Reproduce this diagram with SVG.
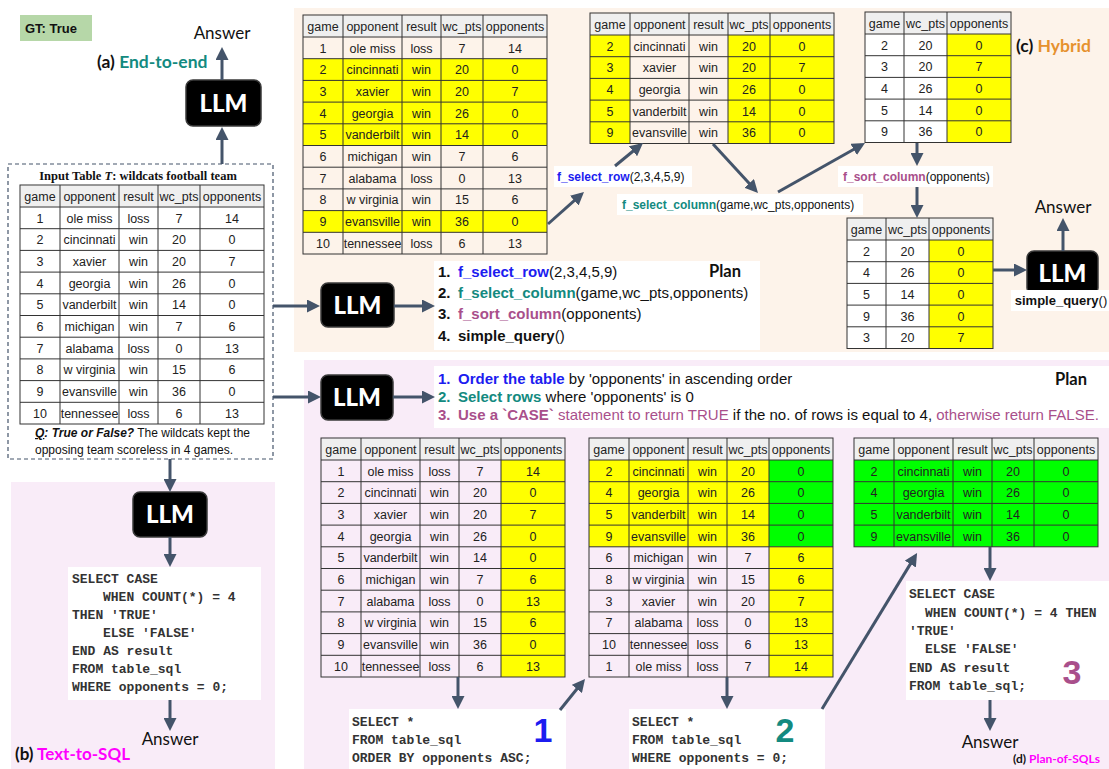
<svg xmlns="http://www.w3.org/2000/svg" width="1109" height="769" viewBox="0 0 1109 769">
<defs>
<style>
.t{font-family:"Liberation Sans",Arial,sans-serif;font-size:12.5px;fill:#222;text-anchor:middle}
.s{font-family:"Liberation Sans",Arial,sans-serif;fill:#111}
.cal{font-family:Lato,"Liberation Sans",sans-serif}
.mono{font-family:"Liberation Mono","Courier New",monospace;font-weight:bold;font-size:13px;fill:#333}
.arrow{stroke:#44546a;stroke-width:3;fill:none;marker-end:url(#ah)}
.grid{fill:none;stroke:#333;stroke-width:1}
.hdr{fill:#efefef}
.llm rect{fill:#000;stroke:#3a3a3a;stroke-width:1.5}
.llm text{fill:#fff;font-family:Lato,"Liberation Sans",sans-serif;font-weight:900;font-size:24px;text-anchor:middle}
.y{fill:#ffff00}.g{fill:#00ff00}
.box{fill:#fff}
.blue{fill:#1c1cf0}.teal{fill:#138a80}.mauve{fill:#a94f8b}
.b{font-weight:bold}
.big{font-family:"Liberation Sans",Arial,sans-serif;font-weight:bold;font-size:34px;text-anchor:middle}
</style>
<marker id="ah" markerUnits="userSpaceOnUse" markerWidth="13" markerHeight="13" refX="9" refY="6.5" orient="auto"><path d="M0,0 L13,6.5 L0,13 z" fill="#44546a"/></marker>
<g id="g5x10"><rect class="grid" width="244" height="239"/><path class="grid" d="M0,22H244M0,43.7H244M0,65.4H244M0,87.1H244M0,108.8H244M0,130.5H244M0,152.2H244M0,173.9H244M0,195.6H244M0,217.3H244M40,0V239M99,0V239M138,0V239M180,0V239"/></g>
<g id="g5x5"><rect class="grid" width="244" height="130.5"/><path class="grid" d="M0,22H244M0,43.7H244M0,65.4H244M0,87.1H244M0,108.8H244M40,0V130.5M99,0V130.5M138,0V130.5M180,0V130.5"/></g>
<g id="g5x4"><rect class="grid" width="244" height="108.8"/><path class="grid" d="M0,22H244M0,43.7H244M0,65.4H244M0,87.1H244M40,0V108.8M99,0V108.8M138,0V108.8M180,0V108.8"/></g>
<g id="g3x5"><rect class="grid" width="146" height="130.5"/><path class="grid" d="M0,22H146M0,43.7H146M0,65.4H146M0,87.1H146M0,108.8H146M39,0V130.5M82,0V130.5"/></g>
<g id="h5"><rect class="hdr" x="0.5" y="0.5" width="243" height="21"/><text class="t" y="15.5"><tspan x="20">game</tspan><tspan x="69.5">opponent</tspan><tspan x="118.5">result</tspan><tspan x="159">wc_pts</tspan><tspan x="212">opponents</tspan></text></g>
<g id="h3"><rect class="hdr" x="0.5" y="0.5" width="145" height="21"/><text class="t" y="15.5"><tspan x="19.5">game</tspan><tspan x="60.5">wc_pts</tspan><tspan x="114">opponents</tspan></text></g>
<g id="rows10">
<text class="t" y="37.5"><tspan x="20">1</tspan><tspan x="69.5">ole miss</tspan><tspan x="118.5">loss</tspan><tspan x="159">7</tspan><tspan x="212">14</tspan></text>
<text class="t" y="59.2"><tspan x="20">2</tspan><tspan x="69.5">cincinnati</tspan><tspan x="118.5">win</tspan><tspan x="159">20</tspan><tspan x="212">0</tspan></text>
<text class="t" y="80.9"><tspan x="20">3</tspan><tspan x="69.5">xavier</tspan><tspan x="118.5">win</tspan><tspan x="159">20</tspan><tspan x="212">7</tspan></text>
<text class="t" y="102.6"><tspan x="20">4</tspan><tspan x="69.5">georgia</tspan><tspan x="118.5">win</tspan><tspan x="159">26</tspan><tspan x="212">0</tspan></text>
<text class="t" y="124.3"><tspan x="20">5</tspan><tspan x="69.5">vanderbilt</tspan><tspan x="118.5">win</tspan><tspan x="159">14</tspan><tspan x="212">0</tspan></text>
<text class="t" y="146"><tspan x="20">6</tspan><tspan x="69.5">michigan</tspan><tspan x="118.5">win</tspan><tspan x="159">7</tspan><tspan x="212">6</tspan></text>
<text class="t" y="167.7"><tspan x="20">7</tspan><tspan x="69.5">alabama</tspan><tspan x="118.5">loss</tspan><tspan x="159">0</tspan><tspan x="212">13</tspan></text>
<text class="t" y="189.4"><tspan x="20">8</tspan><tspan x="69.5">w virginia</tspan><tspan x="118.5">win</tspan><tspan x="159">15</tspan><tspan x="212">6</tspan></text>
<text class="t" y="211.1"><tspan x="20">9</tspan><tspan x="69.5">evansville</tspan><tspan x="118.5">win</tspan><tspan x="159">36</tspan><tspan x="212">0</tspan></text>
<text class="t" y="232.8"><tspan x="20">10</tspan><tspan x="69.5">tennessee</tspan><tspan x="118.5">loss</tspan><tspan x="159">6</tspan><tspan x="212">13</tspan></text>
</g>
<g id="rowsZero">
<text class="t" y="37.5"><tspan x="20">2</tspan><tspan x="69.5">cincinnati</tspan><tspan x="118.5">win</tspan><tspan x="159">20</tspan><tspan x="212">0</tspan></text>
<text class="t" y="59.2"><tspan x="20">4</tspan><tspan x="69.5">georgia</tspan><tspan x="118.5">win</tspan><tspan x="159">26</tspan><tspan x="212">0</tspan></text>
<text class="t" y="80.9"><tspan x="20">5</tspan><tspan x="69.5">vanderbilt</tspan><tspan x="118.5">win</tspan><tspan x="159">14</tspan><tspan x="212">0</tspan></text>
<text class="t" y="102.6"><tspan x="20">9</tspan><tspan x="69.5">evansville</tspan><tspan x="118.5">win</tspan><tspan x="159">36</tspan><tspan x="212">0</tspan></text>
</g>
</defs>

<rect width="1109" height="769" fill="#fff"/>

<!-- panels -->
<rect id="panel-c" x="294" y="8" width="815" height="344" fill="#fdf3ea"/>
<rect id="panel-d" x="304" y="360" width="805" height="409" fill="#f9ecf8"/>
<rect id="panel-b" x="11" y="482" width="264" height="287" fill="#f9ecf8"/>

<!-- GT -->
<g id="gt">
<rect x="20" y="15" width="72" height="26" fill="#b6d7a8"/>
<text class="s b" x="25" y="33" font-size="13">GT: True</text>
</g>

<!-- (a) -->
<g id="label-a"><text class="cal b" x="97" y="68" font-size="17.5"><tspan fill="#111">(a) </tspan><tspan class="teal">End-to-end</tspan></text></g>
<g id="answer-a"><text class="cal" x="222" y="39" font-size="17" text-anchor="middle" fill="#111">Answer</text></g>
<g id="llm-a" class="llm"><rect x="186" y="80" width="75" height="46" rx="7"/><text x="223.5" y="111.5">LLM</text></g>

<!-- input table -->
<g id="input-table">
<rect x="8" y="164" width="265" height="295" fill="#fff" stroke="#44546a" stroke-width="1.2" stroke-dasharray="4,3"/>
<text x="138" y="180" text-anchor="middle" font-family="'Liberation Serif','Times New Roman',serif" font-weight="bold" font-size="12.5" fill="#111">Input  Table <tspan font-style="italic">T</tspan>: wildcats football team</text>
<g transform="translate(20,185)">
<use href="#h5"/><use href="#rows10"/><use href="#g5x10"/>
</g>
<text class="s" x="35" y="437" font-size="12"><tspan font-weight="bold" font-style="italic" text-decoration="underline">Q</tspan><tspan font-weight="bold" font-style="italic">: True or False?</tspan> The wildcats kept the</text>
<text class="s" x="35" y="454" font-size="12">opposing team scoreless in 4 games.</text>
</g>

<!-- (c) Hybrid -->
<g id="label-c"><text class="cal b" x="1016" y="52" font-size="17.5"><tspan fill="#111">(c) </tspan><tspan fill="#e6912e">Hybrid</tspan></text></g>

<g id="table-c1" transform="translate(303,15)">
<rect class="y" x="0" y="43.7" width="244" height="86.8"/><rect class="y" x="0" y="195.6" width="244" height="21.7"/>
<use href="#h5"/><use href="#rows10"/><use href="#g5x10"/>
</g>

<g id="table-c2" transform="translate(590,13)">
<rect class="y" x="0" y="22" width="40" height="108.5"/><rect class="y" x="138" y="22" width="106" height="108.5"/>
<use href="#h5"/>
<text class="t" y="37.5"><tspan x="20">2</tspan><tspan x="69.5">cincinnati</tspan><tspan x="118.5">win</tspan><tspan x="159">20</tspan><tspan x="212">0</tspan></text>
<text class="t" y="59.2"><tspan x="20">3</tspan><tspan x="69.5">xavier</tspan><tspan x="118.5">win</tspan><tspan x="159">20</tspan><tspan x="212">7</tspan></text>
<text class="t" y="80.9"><tspan x="20">4</tspan><tspan x="69.5">georgia</tspan><tspan x="118.5">win</tspan><tspan x="159">26</tspan><tspan x="212">0</tspan></text>
<text class="t" y="102.6"><tspan x="20">5</tspan><tspan x="69.5">vanderbilt</tspan><tspan x="118.5">win</tspan><tspan x="159">14</tspan><tspan x="212">0</tspan></text>
<text class="t" y="124.3"><tspan x="20">9</tspan><tspan x="69.5">evansville</tspan><tspan x="118.5">win</tspan><tspan x="159">36</tspan><tspan x="212">0</tspan></text>
<use href="#g5x5"/>
</g>

<g id="table-c3" transform="translate(865,12)">
<rect class="box" x="0" y="22" width="82" height="108.5"/>
<rect class="y" x="82" y="22" width="64" height="108.5"/>
<use href="#h3"/>
<text class="t" y="37.5"><tspan x="19.5">2</tspan><tspan x="60.5">20</tspan><tspan x="114">0</tspan></text>
<text class="t" y="59.2"><tspan x="19.5">3</tspan><tspan x="60.5">20</tspan><tspan x="114">7</tspan></text>
<text class="t" y="80.9"><tspan x="19.5">4</tspan><tspan x="60.5">26</tspan><tspan x="114">0</tspan></text>
<text class="t" y="102.6"><tspan x="19.5">5</tspan><tspan x="60.5">14</tspan><tspan x="114">0</tspan></text>
<text class="t" y="124.3"><tspan x="19.5">9</tspan><tspan x="60.5">36</tspan><tspan x="114">0</tspan></text>
<use href="#g3x5"/>
</g>

<g id="table-c4" transform="translate(847,218)">
<rect class="box" x="0" y="22" width="82" height="108.5"/>
<rect class="y" x="82" y="22" width="64" height="108.5"/>
<use href="#h3"/>
<text class="t" y="37.5"><tspan x="19.5">2</tspan><tspan x="60.5">20</tspan><tspan x="114">0</tspan></text>
<text class="t" y="59.2"><tspan x="19.5">4</tspan><tspan x="60.5">26</tspan><tspan x="114">0</tspan></text>
<text class="t" y="80.9"><tspan x="19.5">5</tspan><tspan x="60.5">14</tspan><tspan x="114">0</tspan></text>
<text class="t" y="102.6"><tspan x="19.5">9</tspan><tspan x="60.5">36</tspan><tspan x="114">0</tspan></text>
<text class="t" y="124.3"><tspan x="19.5">3</tspan><tspan x="60.5">20</tspan><tspan x="114">7</tspan></text>
<use href="#g3x5"/>
</g>

<g id="label-select-row"><rect class="box" x="554" y="166" width="138" height="21"/><text class="s" x="557" y="181" font-size="12"><tspan class="blue b">f_select_row</tspan>(2,3,4,5,9)</text></g>
<g id="label-select-column"><rect class="box" x="617" y="194" width="246" height="21"/><text class="s" x="622" y="209" font-size="12"><tspan class="teal b">f_select_column</tspan>(game,wc_pts,opponents)</text></g>
<g id="label-sort-column"><rect class="box" x="838" y="166" width="155" height="21"/><text class="s" x="843" y="181" font-size="12"><tspan class="mauve b">f_sort_column</tspan>(opponents)</text></g>

<g id="llm-c1" class="llm"><rect x="321" y="283" width="73" height="44" rx="7"/><text x="357.5" y="313.5">LLM</text></g>

<g id="plan-c">
<rect class="box" x="434" y="261" width="326" height="89"/>
<text class="s" x="438" y="277" font-size="15"><tspan class="b">1.</tspan><tspan x="458" class="blue b">f_select_row</tspan>(2,3,4,5,9)</text>
<text class="s" x="438" y="298" font-size="15"><tspan class="b">2.</tspan><tspan x="458" class="teal b">f_select_column</tspan>(game,wc_pts,opponents)</text>
<text class="s" x="438" y="319" font-size="15"><tspan class="b">3.</tspan><tspan x="458" class="mauve b">f_sort_column</tspan>(opponents)</text>
<text class="s" x="438" y="341" font-size="15"><tspan class="b">4.</tspan><tspan x="458" class="b">simple_query</tspan>()</text>
<text class="cal b" x="709" y="277" font-size="16.5" fill="#111">Plan</text>
</g>

<g id="llm-c2" class="llm"><rect x="1027" y="251" width="71" height="44" rx="7"/><text x="1062.5" y="281.5">LLM</text></g>
<g id="label-simple-query"><rect class="box" x="1011" y="290" width="98" height="21"/><text class="s" x="1061" y="305" font-size="13" text-anchor="middle"><tspan class="b">simple_query</tspan>()</text></g>
<g id="answer-c"><text class="cal" x="1063" y="213" font-size="17" text-anchor="middle" fill="#111">Answer</text></g>

<!-- (b) Text-to-SQL -->
<g id="llm-b" class="llm"><rect x="133" y="492" width="74" height="45" rx="7"/><text x="170" y="522.5">LLM</text></g>
<g id="sql-b">
<rect class="box" x="68" y="567" width="193" height="133"/>
<text class="mono" x="72" y="583">SELECT CASE</text>
<text class="mono" x="103" y="601">WHEN COUNT(*) = 4</text>
<text class="mono" x="72" y="619">THEN 'TRUE'</text>
<text class="mono" x="103" y="637">ELSE 'FALSE'</text>
<text class="mono" x="72" y="655">END AS result</text>
<text class="mono" x="72" y="673">FROM table_sql</text>
<text class="mono" x="72" y="691">WHERE opponents = 0;</text>
</g>
<g id="answer-b"><text class="cal" x="170" y="745" font-size="17" text-anchor="middle" fill="#111">Answer</text></g>
<g id="label-b"><text class="cal b" x="15" y="760" font-size="17"><tspan fill="#111">(b) </tspan><tspan fill="#ff00ff">Text-to-SQL</tspan></text></g>

<!-- (d) Plan-of-SQLs -->
<g id="llm-d" class="llm"><rect x="321" y="375" width="72" height="45" rx="7"/><text x="357" y="405.5">LLM</text></g>
<g id="plan-d">
<rect class="box" x="434" y="366" width="675" height="62"/>
<text class="s" x="438" y="384" font-size="15"><tspan class="blue b">1.</tspan><tspan x="458" class="blue b">Order the table</tspan> by 'opponents' in ascending order</text>
<text class="s" x="438" y="402" font-size="15"><tspan class="teal b">2.</tspan><tspan x="458" class="teal b">Select rows</tspan> where 'opponents' is 0</text>
<text class="s" x="438" y="420" font-size="15"><tspan class="mauve b">3.</tspan><tspan x="458" class="mauve b">Use a `CASE`</tspan><tspan class="mauve"> statement to return TRUE</tspan> if the no. of rows is equal to 4, <tspan class="mauve">otherwise return FALSE.</tspan></text>
<text class="cal b" x="1055" y="385" font-size="16.5" fill="#111">Plan</text>
</g>

<g id="table-d1" transform="translate(321,438)">
<rect class="y" x="180" y="22" width="64" height="217"/>
<use href="#h5"/><use href="#rows10"/><use href="#g5x10"/>
</g>

<g id="table-d2" transform="translate(589,438)">
<rect class="y" x="0" y="22" width="180" height="86.8"/><rect class="g" x="180" y="22" width="64" height="86.8"/><rect class="y" x="180" y="108.8" width="64" height="130.2"/>
<use href="#h5"/><use href="#rowsZero"/>
<text class="t" y="124.3"><tspan x="20">6</tspan><tspan x="69.5">michigan</tspan><tspan x="118.5">win</tspan><tspan x="159">7</tspan><tspan x="212">6</tspan></text>
<text class="t" y="146"><tspan x="20">8</tspan><tspan x="69.5">w virginia</tspan><tspan x="118.5">win</tspan><tspan x="159">15</tspan><tspan x="212">6</tspan></text>
<text class="t" y="167.7"><tspan x="20">3</tspan><tspan x="69.5">xavier</tspan><tspan x="118.5">win</tspan><tspan x="159">20</tspan><tspan x="212">7</tspan></text>
<text class="t" y="189.4"><tspan x="20">7</tspan><tspan x="69.5">alabama</tspan><tspan x="118.5">loss</tspan><tspan x="159">0</tspan><tspan x="212">13</tspan></text>
<text class="t" y="211.1"><tspan x="20">10</tspan><tspan x="69.5">tennessee</tspan><tspan x="118.5">loss</tspan><tspan x="159">6</tspan><tspan x="212">13</tspan></text>
<text class="t" y="232.8"><tspan x="20">1</tspan><tspan x="69.5">ole miss</tspan><tspan x="118.5">loss</tspan><tspan x="159">7</tspan><tspan x="212">14</tspan></text>
<use href="#g5x10"/>
</g>

<g id="table-d3" transform="translate(854,438)">
<rect class="g" x="0" y="22" width="244" height="86.8"/>
<use href="#h5"/><use href="#rowsZero"/><use href="#g5x4"/>
</g>

<g id="sql-d1">
<rect class="box" x="349" y="709" width="217" height="60"/>
<text class="mono" x="352" y="726">SELECT *</text>
<text class="mono" x="352" y="744">FROM table_sql</text>
<text class="mono" x="352" y="762">ORDER BY opponents ASC;</text>
<text class="big blue" x="543" y="742">1</text>
</g>
<g id="sql-d2">
<rect class="box" x="629" y="709" width="196" height="60"/>
<text class="mono" x="632" y="726">SELECT *</text>
<text class="mono" x="632" y="744">FROM table_sql</text>
<text class="mono" x="632" y="762">WHERE opponents = 0;</text>
<text class="big teal" x="785" y="742">2</text>
</g>
<g id="sql-d3">
<rect class="box" x="906" y="581" width="203" height="119"/>
<text class="mono" x="909" y="598">SELECT CASE</text>
<text class="mono" x="925" y="617">WHEN COUNT(*) = 4 THEN</text>
<text class="mono" x="909" y="635">'TRUE'</text>
<text class="mono" x="925" y="653">ELSE 'FALSE'</text>
<text class="mono" x="909" y="672">END AS result</text>
<text class="mono" x="909" y="690">FROM table_sql;</text>
<text class="big mauve" x="1072" y="684">3</text>
</g>
<g id="answer-d"><text class="cal" x="990" y="748" font-size="17" text-anchor="middle" fill="#111">Answer</text></g>
<g id="label-d"><text class="cal b" x="1013" y="763" font-size="12"><tspan fill="#111">(d) </tspan><tspan fill="#ff00ff">Plan-of-SQLs</tspan></text></g>

<!-- connectors -->
<g id="connectors">
<line class="arrow" x1="222" y1="164" x2="222" y2="131"/>
<line class="arrow" x1="222" y1="80" x2="222" y2="51"/>
<line class="arrow" x1="273" y1="306" x2="316" y2="306"/>
<line class="arrow" x1="394" y1="306" x2="431" y2="306"/>
<line class="arrow" x1="548" y1="224" x2="581" y2="194.7"/>
<line class="arrow" x1="615" y1="166" x2="639.9" y2="145.5"/>
<line class="arrow" x1="713" y1="144" x2="755.3" y2="190"/>
<line class="arrow" x1="778" y1="192" x2="861.5" y2="145"/>
<line class="arrow" x1="917" y1="143" x2="917" y2="162"/>
<line class="arrow" x1="917" y1="187" x2="917" y2="214"/>
<line class="arrow" x1="993" y1="270" x2="1023" y2="270"/>
<line class="arrow" x1="1063" y1="251" x2="1063" y2="222"/>
<line class="arrow" x1="273" y1="397" x2="317" y2="397"/>
<line class="arrow" x1="393" y1="397" x2="431" y2="397"/>
<line class="arrow" x1="458" y1="677" x2="458" y2="705"/>
<line class="arrow" x1="560" y1="710" x2="582.5" y2="682"/>
<line class="arrow" x1="727" y1="677" x2="727" y2="705"/>
<line class="arrow" x1="822" y1="709" x2="915" y2="556.4"/>
<line class="arrow" x1="990" y1="547" x2="990" y2="577"/>
<line class="arrow" x1="990" y1="700" x2="990" y2="727"/>
<line class="arrow" x1="170" y1="459" x2="170" y2="488"/>
<line class="arrow" x1="170" y1="537" x2="170" y2="563"/>
<line class="arrow" x1="170" y1="700" x2="170" y2="727"/>
</g>
</svg>
